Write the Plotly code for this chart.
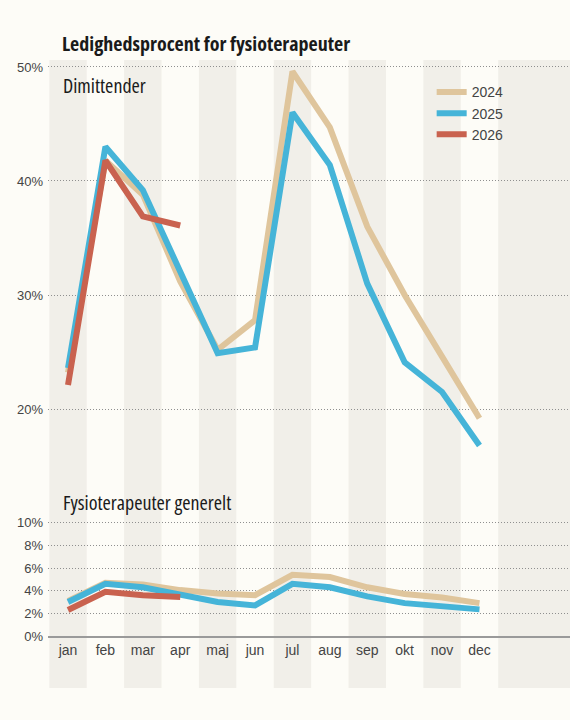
import plotly.graph_objects as go

months = ["jan", "feb", "mar", "apr", "maj", "jun", "jul", "aug", "sep", "okt", "nov", "dec"]
years = ["2024", "2025", "2026"]

dim_2024 = [23.2, 41.8, 38.8, 31.2, 25.2, 27.8, 49.6, 44.7, 36.0, 30.0, 24.6, 19.2]
dim_2025 = [23.6, 43.0, 39.2, 32.0, 24.9, 25.4, 46.0, 41.4, 31.0, 24.1, 21.5, 16.8]
dim_2026 = [22.1, 41.8, 36.9, 36.1]

gen_2024 = [3.1, 4.7, 4.55, 4.05, 3.75, 3.6, 5.4, 5.2, 4.3, 3.7, 3.4, 2.9]
gen_2025 = [3.0, 4.6, 4.3, 3.6, 3.0, 2.7, 4.6, 4.3, 3.5, 2.9, 2.65, 2.35]
gen_2026 = [2.3, 3.9, 3.6, 3.45]

top_ticks = [20, 30, 40, 50]
bot_ticks = [0, 2, 4, 6, 8, 10]

colors = {"2024": "#dfc59c", "2025": "#45b4d8", "2026": "#c9624f"}
BG = "#fdfcf7"
STRIPE = "#f1efe9"
TXT = "#444444"
GRID = "#8f8f8f"
FONT = "Liberation Sans, Arial, sans-serif"
COND = "Open Sans"


def cond(s, bold=False):
    inner = f"<b>{s}</b>" if bold else s
    return f"<span style='font-stretch:condensed'>{inner}</span>"


fig = go.Figure()
dim = {"2024": dim_2024, "2025": dim_2025, "2026": dim_2026}
gen = {"2024": gen_2024, "2025": gen_2025, "2026": gen_2026}
xi = list(range(len(months)))
for y in years:
    vals = dim[y]
    fig.add_trace(go.Scatter(x=xi[:len(vals)], y=vals, mode="lines", name=y,
                             line=dict(color=colors[y], width=6), xaxis="x2", yaxis="y2",
                             showlegend=True, legendgroup=y, hoverinfo="skip"))
for y in years:
    vals = gen[y]
    fig.add_trace(go.Scatter(x=xi[:len(vals)], y=vals, mode="lines", name=y,
                             line=dict(color=colors[y], width=6), xaxis="x", yaxis="y",
                             showlegend=False, legendgroup=y, hoverinfo="skip"))

shapes = []
for i in range(0, 12, 2):
    shapes.append(dict(type="rect", xref="x", yref="paper", x0=i - 0.5, x1=i + 0.5, y0=0, y1=1,
                       fillcolor=STRIPE, line=dict(width=0), layer="below"))
shapes.append(dict(type="rect", xref="x", yref="paper", x0=11.5, x1=14, y0=0, y1=1,
                   fillcolor=STRIPE, line=dict(width=0), layer="below"))

xrange = [-0.535, 13.42]
fig.update_layout(
    width=570, height=720,
    margin=dict(l=48, r=0, t=60, b=32),
    paper_bgcolor=BG, plot_bgcolor="rgba(0,0,0,0)",
    shapes=shapes,
    showlegend=True,
    legend=dict(x=0.735, y=0.974, xanchor="left", yanchor="top", bgcolor="rgba(0,0,0,0)",
                font=dict(family=FONT, size=14, color=TXT), itemwidth=30, tracegroupgap=0),
    xaxis=dict(domain=[0, 1], range=xrange, tickmode="array", tickvals=xi, ticktext=months,
               showgrid=False, zeroline=False, showline=True, linecolor="#9a9a9a", linewidth=1.5,
               ticks="", tickfont=dict(family=FONT, size=14, color=TXT), anchor="y", fixedrange=True),
    yaxis=dict(domain=[0.0828, 0.2755], range=[0, 10.68], tickvals=bot_ticks,
               ticktext=[f"{v}%" for v in bot_ticks], showgrid=True, gridcolor=GRID,
               griddash="1px,2px", gridwidth=1, zeroline=False, ticks="",
               tickfont=dict(family=FONT, size=13, color=TXT), anchor="x", ticklabelstandoff=4),
    xaxis2=dict(domain=[0, 1], range=xrange, showticklabels=False, showgrid=False,
                zeroline=False, showline=False, anchor="y2", matches="x"),
    yaxis2=dict(domain=[0.363, 1.0], range=[15.53, 50.61], tickvals=top_ticks,
                ticktext=[f"{v}%" for v in top_ticks], showgrid=True, gridcolor=GRID,
                griddash="1px,2px", gridwidth=1, zeroline=False, ticks="",
                tickfont=dict(family=FONT, size=13, color=TXT), anchor="x2", ticklabelstandoff=4),
    annotations=[
        dict(text=cond("Ledighedsprocent for fysioterapeuter", bold=True), xref="paper", yref="paper",
             x=0.023, y=1.0255, xanchor="left", yanchor="middle", showarrow=False,
             font=dict(family=COND, size=20, color="#1a1a1a")),
        dict(text=cond("Dimittender"), xref="paper", yref="paper", x=0.0249, y=0.9586,
             xanchor="left", yanchor="middle", showarrow=False,
             font=dict(family=COND, size=20, color="#1a1a1a")),
        dict(text=cond("Fysioterapeuter generelt"), xref="paper", yref="paper", x=0.0249, y=0.2946,
             xanchor="left", yanchor="middle", showarrow=False,
             font=dict(family=COND, size=20, color="#1a1a1a")),
    ],
)

fig.write_html("out.html")
